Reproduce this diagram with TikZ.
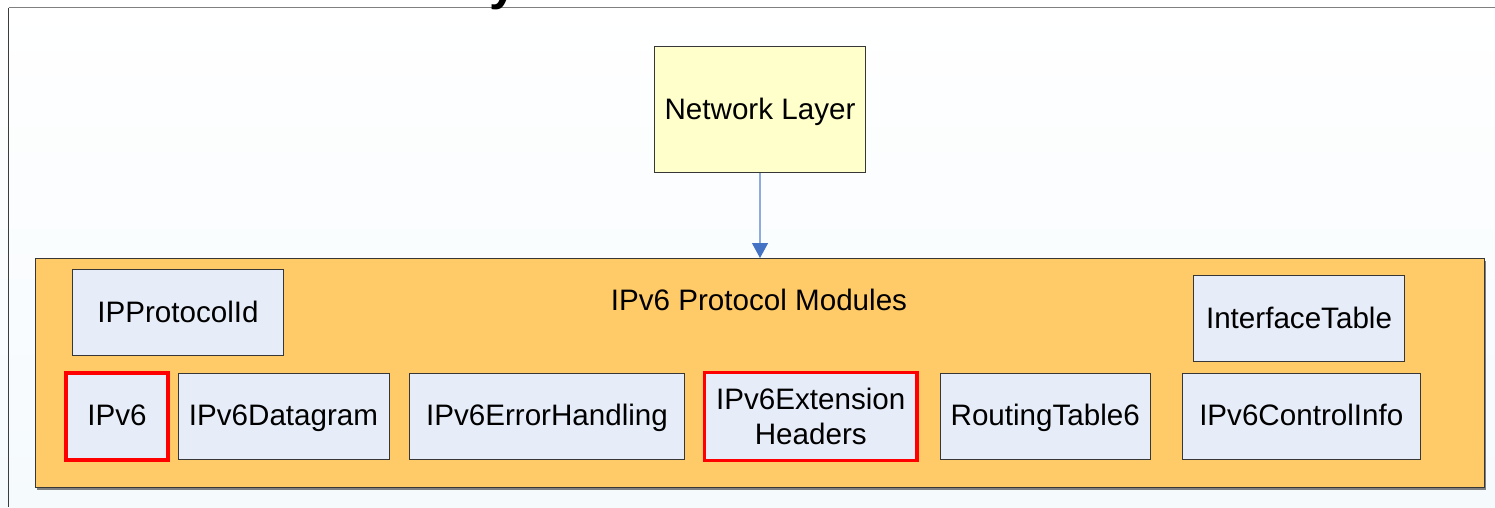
\documentclass[tikz,border=0pt]{standalone}
\usepackage{fontspec}
\setmainfont{Liberation Sans}
\usetikzlibrary{arrows.meta}
\definecolor{bgblue}{RGB}{245,250,253}
\definecolor{frametop}{RGB}{128,128,128}
\definecolor{frameleft}{RGB}{60,60,60}
\definecolor{nlfill}{RGB}{255,255,204}
\definecolor{modfill}{RGB}{255,203,105}
\definecolor{boxfill}{RGB}{231,237,248}
\definecolor{boxline}{RGB}{55,55,55}
\definecolor{arrline}{RGB}{143,170,220}
\definecolor{arrtip}{RGB}{68,114,196}
\definecolor{hired}{RGB}{255,0,0}
\begin{document}
\begin{tikzpicture}[x=1pt,y=-1pt,
  txt/.style={font=\fontsize{29.6}{34.4}\selectfont, text=black},
  oneline/.style={text height=21.3pt, text depth=1.7pt},
  lowrow/.style={text height=21.3pt, text depth=3.9pt},
  modbox/.style={rectangle, draw=boxline, fill=boxfill, line width=1pt, inner sep=0pt, txt, align=center},
  redbox/.style={modbox, draw=hired, line width=3.6pt},
  conn/.style={draw=arrline, line width=1.3pt, -{Triangle[length=15pt,width=16pt,color=arrtip]}}
]
\useasboundingbox (0,0) rectangle (1495,507);
\shade[top color=white, bottom color=bgblue] (0,0) rectangle (1495,507);
% outer frame
\draw[frametop, line width=1.6pt] (8.5,7.5) -- (1495,7.5);
\draw[frameleft, line width=1.6pt] (8.5,7.5) -- (8.5,507);
% cut-off title glyph
\begin{scope}
\clip (0,0) rectangle (1495,507);
\node[anchor=base west, inner sep=0pt, font=\fontsize{50}{50}\selectfont\bfseries] (ttl) at (489,-0.5) {y};
\end{scope}
% network layer
\node[rectangle, draw=boxline, fill=nlfill, line width=1pt, minimum width=211pt, minimum height=126pt, inner sep=0pt, txt, oneline] (nl) at (760,109.5) {Network Layer};
% modules container with shadow
\fill[frametop] (37,261) rectangle (1486,490);
\node[rectangle, draw=boxline, fill=modfill, line width=1pt, minimum width=1449pt, minimum height=229pt, inner sep=0pt] (mods) at (759.5,373) {};
\node[txt, oneline, inner sep=0pt] (modlbl) at (759,301) {IPv6 Protocol Modules};
% modules
\node[modbox, oneline, minimum width=211pt, minimum height=86pt] (ppid) at (178,312.5) {IPProtocolId};
\node[modbox, oneline, minimum width=211pt, minimum height=86pt] (itab) at (1299,318.5) {InterfaceTable};
\node[redbox, lowrow, minimum width=102pt, minimum height=87pt] (ipv6) at (117,416.5) {IPv6};
\node[modbox, lowrow, minimum width=211pt, minimum height=86pt] (dgram) at (283.5,416.5) {IPv6Datagram};
\node[modbox, lowrow, minimum width=275pt, minimum height=86pt] (err) at (547,416.5) {IPv6ErrorHandling};
\node[redbox, minimum width=212.5pt, minimum height=88pt] (ext) at (810.75,416.5) {IPv6Extension\\Headers};
\node[modbox, lowrow, minimum width=210.5pt, minimum height=86pt] (rt6) at (1045.25,416.5) {RoutingTable6};
\node[modbox, lowrow, minimum width=237.5pt, minimum height=86pt] (ctrl) at (1301.25,416.5) {IPv6ControlInfo};
% connector
\draw[conn] (nl.south) -- (nl.south |- mods.north);
\end{tikzpicture}
\end{document}
